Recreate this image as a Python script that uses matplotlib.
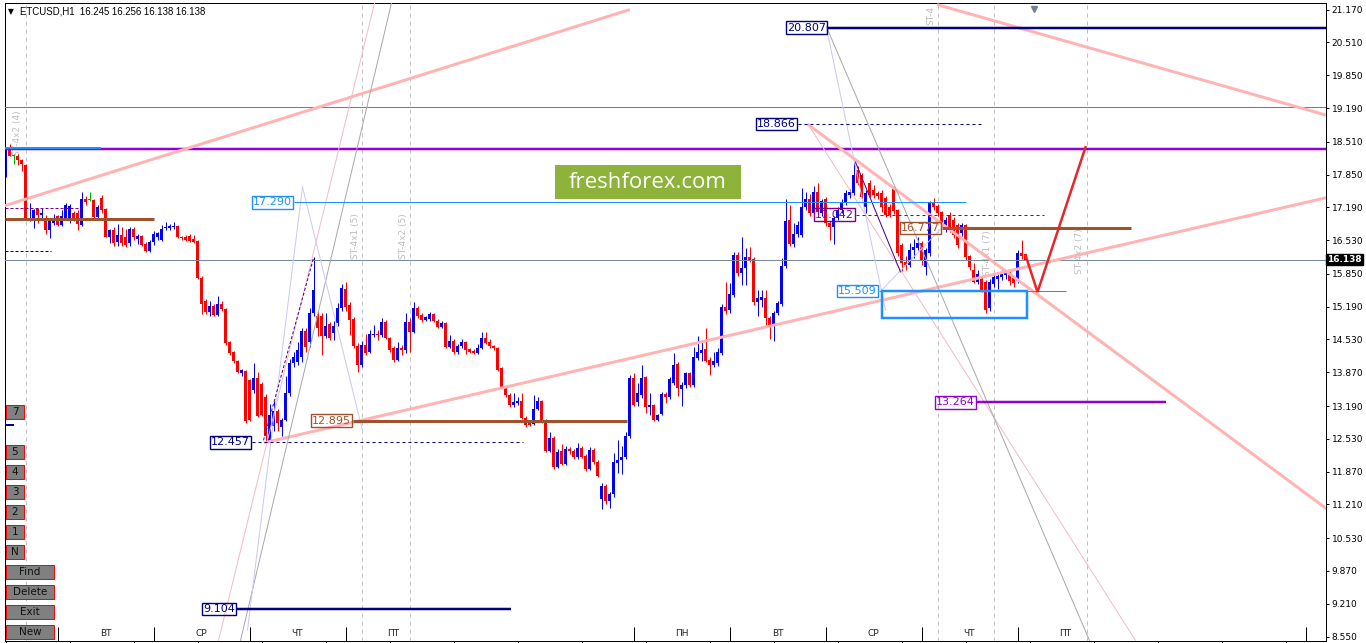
import matplotlib
matplotlib.use('Agg')
import matplotlib.pyplot as plt
from matplotlib.patches import Rectangle
import numpy as np

# ---------------- data (ETCUSD H1 candles) ----------------
opens = [17.80,18.35,18.22,18.22,18.15,18.05,16.95,16.93,17.15,17.03,16.98,16.73,16.88,17.01,16.83,16.95,16.93,17.08,17.08,16.83,
         17.36,17.33,17.33,17.00,17.38,17.16,16.59,16.74,16.49,16.64,16.59,16.47,16.76,16.56,16.62,16.46,16.32,16.49,16.60,16.54,
         16.77,16.78,16.79,16.82,16.60,16.59,16.62,16.56,16.52,15.77,15.30,15.08,15.20,15.02,15.25,15.15,14.47,14.27,14.09,13.86,
         13.90,13.71,13.51,13.75,13.63,13.38,12.46,12.79,13.09,12.77,12.91,13.46,14.06,14.07,14.17,14.71,14.47,15.06,15.01,15.01,
         14.61,14.84,14.66,14.86,15.16,15.55,15.22,14.94,14.40,14.01,14.42,14.27,14.62,14.65,14.62,14.88,14.56,14.36,14.12,14.36,
         14.32,14.88,14.68,15.16,15.02,14.92,14.94,15.04,14.91,14.78,14.87,14.38,14.50,14.28,14.40,14.48,14.33,14.30,14.25,14.36,
         14.56,14.48,14.40,14.35,13.95,13.57,13.41,13.21,13.25,13.29,12.95,12.86,12.83,13.14,13.29,12.87,12.29,12.55,11.96,12.29,
         12.03,12.32,12.29,12.16,12.35,12.19,11.92,12.31,12.07,11.32,11.58,11.28,11.41,12.05,12.11,12.17,12.58,13.75,13.27,13.41,
         13.77,13.17,13.21,12.91,13.03,13.43,13.37,13.66,14.03,13.53,13.61,13.85,13.61,14.15,14.25,14.34,14.12,14.01,14.05,14.26,
         15.18,15.12,15.42,16.23,15.87,15.97,16.19,16.15,15.28,15.33,15.36,14.96,14.80,15.06,15.24,16.01,16.93,16.45,16.65,16.63,
         17.19,17.35,17.07,17.50,17.07,17.35,16.87,16.79,16.97,17.13,17.29,17.43,17.48,17.94,17.84,17.19,17.68,17.54,17.48,17.48,
         17.38,17.19,17.56,17.13,16.43,16.09,16.03,16.33,16.37,16.47,15.99,16.27,17.27,17.21,17.09,16.73,17.03,16.93,16.83,16.67,
         16.83,16.21,15.93,15.69,15.77,15.69,15.16,15.65,15.75,15.78,15.83,15.85,15.77,15.71,16.27,16.245]
highs = [18.40,18.47,18.27,18.27,18.17,18.07,17.28,17.15,17.18,17.18,17.03,16.98,17.05,17.03,17.13,17.28,17.25,17.11,17.13,17.50,
         17.41,17.50,17.36,17.23,17.43,17.18,16.76,16.79,16.86,16.79,16.76,16.79,16.79,16.66,16.64,16.49,16.54,16.72,16.69,16.84,
         16.89,16.86,16.89,16.84,16.62,16.64,16.66,16.64,16.54,15.80,15.35,15.30,15.25,15.40,15.30,15.17,14.49,14.29,14.12,13.94,
         13.91,13.73,14.06,13.88,13.68,13.43,13.24,13.29,13.14,12.94,13.79,14.13,14.28,14.47,14.76,14.76,15.16,16.19,15.11,15.06,
         15.06,14.88,14.91,15.26,15.64,15.69,15.28,14.98,14.45,14.50,14.65,14.72,14.82,14.72,14.96,14.92,14.58,14.40,14.48,14.41,
         15.06,14.96,15.28,15.21,15.06,15.01,15.08,15.06,14.94,14.91,14.89,14.63,14.53,14.43,14.53,14.50,14.36,14.33,14.43,14.68,
         14.68,14.54,14.42,14.37,13.97,13.62,13.45,13.45,13.37,13.45,12.98,12.88,13.41,13.38,13.32,12.92,12.67,12.58,12.32,12.42,
         12.38,12.37,12.32,12.45,12.39,12.22,12.36,12.35,12.10,11.64,11.62,11.45,12.25,12.50,12.39,12.67,13.81,13.85,13.65,14.01,
         13.80,13.45,13.23,13.03,13.47,13.47,13.77,14.25,14.08,13.68,13.88,13.88,14.38,14.60,14.50,14.76,14.17,14.28,14.35,15.25,
         15.69,15.66,16.30,16.30,16.59,16.38,16.39,16.19,15.53,15.53,15.53,15.00,15.10,15.30,16.17,17.36,17.24,16.87,16.91,17.58,
         17.50,17.45,17.62,17.68,17.36,17.40,16.92,17.01,17.20,17.36,17.54,17.56,18.10,18.02,17.88,17.53,17.74,17.64,17.51,17.53,
         17.42,17.26,17.61,17.16,16.48,16.22,16.48,16.55,16.59,16.52,16.38,17.31,17.37,17.26,17.12,16.99,17.09,16.99,16.88,16.88,
         16.86,16.24,16.07,15.93,15.81,15.73,15.75,15.86,15.85,15.93,15.91,15.90,15.79,16.33,16.53,16.256]
lows = [17.80,18.22,18.07,18.05,17.92,16.93,16.91,16.77,16.88,16.98,16.65,16.58,16.83,16.81,16.81,16.93,16.88,16.91,16.74,16.81,
        17.23,17.31,16.96,16.93,17.08,16.59,16.47,16.42,16.42,16.42,16.39,16.42,16.54,16.46,16.42,16.29,16.29,16.44,16.54,16.52,
        16.74,16.74,16.76,16.57,16.54,16.52,16.49,16.48,15.75,15.05,15.05,15.00,15.00,15.00,15.10,14.42,14.22,14.05,13.85,13.80,
        12.84,12.89,13.46,12.97,12.99,12.457,12.46,12.69,12.69,12.59,12.89,13.39,13.98,14.02,14.07,14.27,14.37,15.01,14.61,14.22,
        14.56,14.51,14.51,14.81,15.11,15.11,14.62,14.36,13.87,13.97,14.22,14.25,14.57,14.52,14.57,14.54,14.27,14.07,14.09,14.22,
        14.25,14.28,14.66,14.96,14.88,14.90,14.91,14.88,14.76,14.76,14.35,14.35,14.23,14.23,14.36,14.23,14.26,14.23,14.23,14.33,
        14.44,14.35,14.32,13.89,13.55,13.37,13.17,13.17,13.22,12.92,12.76,12.78,12.81,13.12,12.85,12.27,12.27,11.92,11.94,12.00,
        12.00,12.22,12.12,12.12,12.15,11.88,11.90,12.03,11.76,11.12,11.22,11.14,11.36,11.84,11.82,12.12,12.55,13.19,13.19,13.36,
        13.05,13.00,12.88,12.88,13.00,13.25,13.34,13.62,13.39,13.19,13.55,13.57,13.58,14.12,14.10,14.07,13.81,13.97,14.00,14.21,
        15.05,15.07,15.38,15.80,15.63,15.62,16.08,15.22,15.00,15.18,14.82,14.54,14.50,15.02,15.20,15.97,16.42,16.40,16.59,16.59,
        17.14,17.02,17.02,17.05,17.02,16.82,16.53,16.45,16.93,17.08,17.24,17.38,17.43,17.63,17.36,17.07,17.40,17.38,17.36,17.09,
        16.99,16.99,17.06,16.22,15.90,15.92,15.98,16.17,16.33,16.03,15.83,16.22,17.14,17.02,16.82,16.69,16.69,16.58,16.38,16.62,
        16.14,15.92,15.66,15.64,15.49,15.06,15.10,15.58,15.55,15.73,15.75,15.63,15.58,15.66,16.16,16.138]
closes = [18.35,18.23,18.23,18.15,18.07,16.95,16.98,17.13,17.03,17.08,16.73,16.95,16.98,16.83,17.01,17.23,17.21,16.95,16.86,17.36,
          17.30,17.34,17.00,17.20,17.13,16.59,16.74,16.47,16.64,16.47,16.44,16.76,16.59,16.62,16.44,16.32,16.49,16.66,16.67,16.76,
          16.80,16.81,16.82,16.59,16.57,16.54,16.51,16.50,15.77,15.25,15.08,15.20,15.02,15.25,15.15,14.46,14.25,14.09,13.87,13.91,
          12.89,12.91,13.75,12.99,13.01,12.59,13.01,13.09,12.84,12.91,13.46,14.06,14.17,14.32,14.71,14.37,15.06,15.53,14.76,14.61,
          14.81,14.56,14.81,15.16,15.56,15.18,14.92,14.40,14.01,14.42,14.25,14.64,14.65,14.62,14.88,14.56,14.32,14.12,14.36,14.31,
          14.88,14.68,15.16,15.00,14.92,14.98,15.04,14.91,14.78,14.86,14.38,14.50,14.28,14.40,14.48,14.31,14.28,14.25,14.36,14.56,
          14.46,14.40,14.35,13.92,13.57,13.41,13.21,13.27,13.29,12.95,12.81,12.81,13.14,13.29,12.87,12.29,12.55,11.96,12.27,12.03,
          12.32,12.29,12.16,12.35,12.17,11.92,12.31,12.07,11.78,11.58,11.28,11.41,12.07,12.11,12.17,12.59,13.75,13.21,13.46,13.75,
          13.17,13.21,12.91,13.01,13.43,13.37,13.73,14.01,13.55,13.61,13.85,13.61,14.17,14.27,14.32,14.10,14.01,14.10,14.28,15.18,
          15.10,15.44,16.23,15.87,15.97,16.19,16.13,15.28,15.36,15.38,14.96,14.78,15.06,15.26,16.01,16.91,16.45,16.65,16.84,17.19,
          17.35,17.07,17.50,17.09,17.31,16.87,16.79,16.97,17.13,17.29,17.48,17.50,17.84,17.68,17.40,17.48,17.44,17.44,17.42,17.19,
          17.04,17.04,17.11,16.27,16.07,16.03,16.33,16.39,16.47,16.13,16.33,17.27,17.19,17.07,16.87,16.93,16.77,16.63,16.43,16.83,
          16.19,15.99,15.69,15.85,15.53,15.12,15.69,15.79,15.80,15.88,15.87,15.71,15.67,16.27,16.21,16.138]

price_ticks = [21.170, 20.510, 19.850, 19.190, 18.510, 17.850, 17.190, 16.530, 15.850, 15.190,
               14.530, 13.870, 13.190, 12.530, 11.870, 11.210, 10.530, 9.870, 9.210, 8.550]
last_price = 16.138
day_labels = ['ПН', 'ВТ', 'СР', 'ЧТ', 'ПТ', 'ПН', 'ВТ', 'СР', 'ЧТ', 'ПТ']
day_label_at = [1.25, 25, 49, 73, 97, 169, 193, 217, 241, 265]
day_breaks = [13, 37, 61, 85, 157, 181, 205, 229, 253, 325]
session_lines = [5, 89, 101, 233, 247, 270.25]
st_texts = ['ST-4x2 (4)', 'ST-4x1 (5)', 'ST-4x2 (5)', 'ST-4x1 (7)', 'ST-4x2 (7)']
st_pos = [(3, 18.69), (87.5, 16.61), (99.5, 16.61), (245.5, 16.27), (268.5, 16.31)]

# labelled levels: (value, x_start, x_end)
lvl_20807 = (20.807, 205.5, 330)
lvl_18866 = (18.866, 198, 244.25)
lvl_17290 = (17.290, 72, 240)
lvl_17042 = (17.042, 212.5, 259.5)
lvl_16777 = (16.777, 234, 281.25)
lvl_15509 = (15.509, 218.25, 265)
lvl_13264 = (13.264, 242.75, 290)
lvl_12895 = (12.895, 86.75, 155.25)
lvl_12457 = (12.457, 61.5, 129.25)
lvl_9104 = (9.104, 57.75, 126.25)
purple_level = 18.355
blue_level = 19.205
box_zone = (219, 255.25, 14.96, 15.509)
forecast_x = [255, 258, 270]
forecast_y = [16.23, 15.484, 18.40]

# ---------------- figure ----------------
W, H = 1366, 643
fig = plt.figure(figsize=(W / 100, H / 100), dpi=100)
fig.patch.set_facecolor('white')
ax = fig.add_axes([4.5 / W, 2.5 / H, 1321 / W, 638 / H])
ax.set_xlim(-0.25, 330)
ax.set_ylim(8.470, 21.314)
PT = 0.72  # one pixel in points

for s in ax.spines.values():
    s.set_linewidth(PT)
    s.set_color('black')

ax.yaxis.tick_right()
ax.set_yticks(price_ticks)
ax.set_yticklabels([f'{v:.3f}' for v in price_ticks])
ax.tick_params(axis='y', direction='out', length=2.5, width=PT, pad=2,
               labelsize=6.5, colors='black')
ax.set_xticks(np.arange(0, 331, 16))
ax.set_xticklabels([])
ax.tick_params(axis='x', direction='out', length=2.5, width=PT)

# session dashed verticals
for xv in session_lines:
    ax.axvline(xv, color='#C0C0C0', lw=PT, ls=(0, (4, 4)), zorder=1)
for t, (xv, yv) in zip(st_texts, st_pos):
    ax.text(xv, yv, t, rotation=90, ha='center', va='center', fontsize=6.5,
            color='#BDBDBD', zorder=1)
ax.text(231.25, 20.86, 'ST-4', rotation=90, ha='center', va='bottom',
        fontsize=6.5, color='#BDBDBD', zorder=1, clip_on=True)

# candles
x = np.arange(len(opens))
o = np.array(opens); c = np.array(closes); h = np.array(highs); l = np.array(lows)
cols = np.where(np.abs(c - o) < 0.015, '#00B000', np.where(c >= o, '#0000FF', '#FF0000'))
ax.vlines(x, l, h, colors=cols, lw=PT, zorder=2)
bot = np.minimum(o, c)
hgt = np.maximum(np.abs(c - o), 0.02)
ax.bar(x, hgt, bottom=bot, width=0.75, color=cols, linewidth=0, zorder=2)

# horizontal lines
ax.axhline(blue_level, color='#1E90FF', lw=PT, zorder=3)
ax.axhline(last_price, color='#778899', lw=PT, zorder=3)
ax.axhline(purple_level, color='#9400D3', lw=2.5 * PT, zorder=3)
ax.hlines(18.38, -0.25, 23.75, color='#1E90FF', lw=2 * PT, zorder=3)
ax.hlines(16.95, -0.25, 37, color='#A0522D', lw=3 * PT, zorder=3)
ax.hlines(17.17, -0.25, 18.75, color='#800080', lw=PT, ls=(0, (3, 2)), zorder=3)
ax.hlines(16.31, -0.25, 11.25, color='#000080', lw=PT, ls=(0, (3, 2)), zorder=3)
ax.hlines(12.806, -0.25, 2, color='#000080', lw=2 * PT, zorder=3)

# trend lines
pink = '#FFB3B3'
ax.plot([-1.25, 155.75], [17.197, 21.163], color=pink, lw=3 * PT, zorder=3)
ax.plot([65, 330], [12.457, 17.38], color=pink, lw=3 * PT, zorder=3)
ax.plot([233.25, 330], [21.264, 19.05], color=pink, lw=3 * PT, zorder=3)
ax.plot([200.75, 330], [18.85, 11.137], color=pink, lw=3 * PT, zorder=3)
ax.plot([200.75, 282.5], [18.85, 8.47], color='#F2BCC6', lw=PT, zorder=3)
ax.plot([53.25, 92.25], [8.47, 21.30], color='#F2BCC6', lw=PT, zorder=3)
ax.plot([58.75, 96.5], [8.47, 21.304], color='#A9A9A9', lw=PT, zorder=3)
ax.plot([205.25, 271], [20.82, 8.47], color='#A9A9A9', lw=PT, zorder=3)
lav = '#CFC7F2'
ax.plot([60.5, 74.25], [8.68, 17.60], color=lav, lw=PT, zorder=3)
ax.plot([74.25, 89.25], [17.60, 12.70], color=lav, lw=PT, zorder=3)
ax.plot([205.25, 220], [20.80, 15.12], color=lav, lw=PT, zorder=3)
ax.plot([219, 234], [15.52, 16.77], color=lav, lw=PT, zorder=3)
ax.plot([64.5, 77], [12.50, 16.17], color='#4B0082', lw=PT, ls=(0, (3, 2)), zorder=3)
ax.plot([212.5, 223.75], [18.10, 15.89], color='#4B0082', lw=PT, zorder=3)

# labelled levels
def level(lv, color, lw, ls='-'):
    v, x0, x1 = lv
    ax.hlines(v, x0, x1, color=color, lw=lw, ls=ls, zorder=4)
    ax.text(x0 - 0.4, v, f'{v:.3f}', ha='right', va='center', fontsize=8,
            color=color, zorder=6,
            bbox=dict(boxstyle='square,pad=0.12', fc='none', ec=color, lw=PT * 1.4))

level(lvl_20807, '#000080', 2.5 * PT)
level(lvl_18866, '#000080', PT, (0, (3, 3)))
level(lvl_17290, '#1E90FF', PT)
level(lvl_17042, '#800080', PT, (0, (3, 3)))
level(lvl_16777, '#A0522D', 3 * PT)
level(lvl_15509, '#1E90FF', PT)
level(lvl_13264, '#9400D3', 2.5 * PT)
level(lvl_12895, '#A0522D', 3 * PT)
level(lvl_12457, '#000080', PT, (0, (3, 3)))
level(lvl_9104, '#000080', 2.5 * PT)

bx0, bx1, by0, by1 = box_zone
ax.add_patch(Rectangle((bx0, by0), bx1 - bx0, by1 - by0, fill=False,
                       ec='#1E90FF', lw=2.5 * PT, zorder=4))
ax.plot(forecast_x, forecast_y, color='#E8262A', lw=2.5 * PT, zorder=5,
        solid_joinstyle='miter')

# time strip
strip = ax.get_xaxis_transform()
ax.vlines(day_breaks, 0, 14 / 638, transform=strip, color='black', lw=PT, zorder=6)
for t, xv in zip(day_labels, day_label_at):
    ax.text(xv, 7 / 638, t, transform=strip, ha='center', va='center',
            fontsize=6.5, color='#222222', zorder=6)

# top marker
ax.plot([257], [21.19], marker='v', ms=5, color='#708090', zorder=6, clip_on=False)

# current price tag
ax.text(1.0015, last_price, f'{last_price:.3f}', transform=ax.get_yaxis_transform(),
        ha='left', va='center', fontsize=6.5, color='white', fontweight='bold',
        bbox=dict(boxstyle='square,pad=0.15', fc='black', ec='black'), zorder=7,
        clip_on=False)

# title
fig.text(8 / W, 1 - 12 / H, '▼', fontsize=5.5, va='center', ha='left', color='black')
fig.text(20 / W, 1 - 12 / H, 'ETCUSD,H1  16.245 16.256 16.138 16.138', fontsize=6.9,
         va='center', ha='left', color='black', family='Liberation Sans')

# watermark
fig.add_artist(Rectangle((555 / W, 1 - 199 / H), 186 / W, 34 / H,
                         transform=fig.transFigure, fc='#8DB33A', ec='none', zorder=8))
fig.text(648 / W, 1 - 182 / H, 'freshforex.com', fontsize=16, color='white',
         ha='center', va='center', family='Open Sans', zorder=9)

# buttons
buttons = [('7', 405, 18), ('5', 445, 18), ('4', 465, 18), ('3', 485, 18), ('2', 505, 18),
           ('1', 525, 18), ('N', 545, 18), ('Find', 565, 48), ('Delete', 585, 48),
           ('Exit', 605, 48), ('New', 625, 48)]
for t, ytop, w in buttons:
    fig.add_artist(Rectangle((6 / W, 1 - (ytop + 14) / H), w / W, 14 / H,
                             transform=fig.transFigure, fc='#808080', ec='#FF0000',
                             lw=PT, zorder=8))
    fig.text((6 + w / 2) / W, 1 - (ytop + 7) / H, t, fontsize=7.5, color='#111111',
             ha='center', va='center', zorder=9)

fig.savefig('out.png', dpi=100, facecolor='white')
